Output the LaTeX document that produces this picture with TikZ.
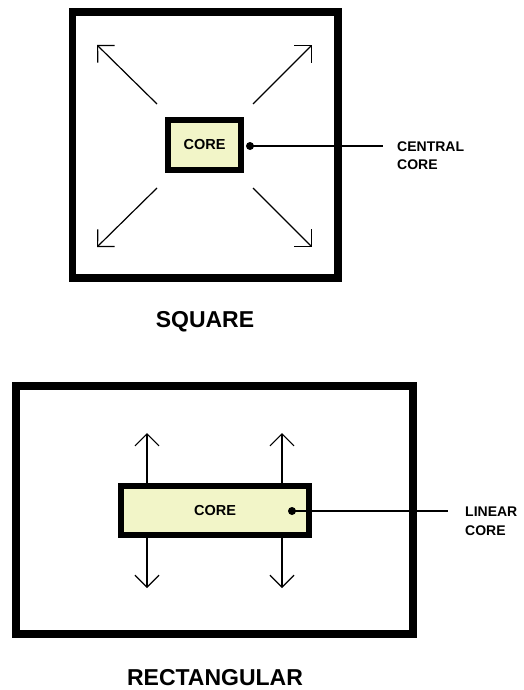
\documentclass[tikz,border=0pt]{standalone}
\usepackage{fontspec}
\setmainfont{Liberation Sans}
\usetikzlibrary{arrows.meta}
\definecolor{corefill}{HTML}{F2F5C8}
\tikzset{
  outerbox/.style={draw, line width=7.5pt, inner sep=0pt},
  corebox/.style={draw, line width=6pt, fill=corefill, inner sep=0pt, font=\bfseries\fontsize{14.5}{17}\selectfont},
  spread/.style={line width=1.2pt, -{Straight Barb[length=12pt,width=24pt]}},
  leader/.style={line width=1.2pt},
  dotmark/.style={circle, fill=black, inner sep=0pt, minimum size=8pt},
  label/.style={align=left, anchor=west, inner sep=0pt, font=\bfseries\fontsize{14}{18}\selectfont},
  title/.style={inner sep=0pt, font=\bfseries\fontsize{23}{27}\selectfont}
}
\begin{document}
\begin{tikzpicture}[x=1pt,y=-1pt]
\useasboundingbox[fill=white] (0,0) rectangle (523,690);
% square plan
\node[outerbox, minimum width=265.5pt, minimum height=265.5pt] (sq) at (205,145) {};
\node[corebox, minimum width=73pt, minimum height=50pt] (c1) at (204.5,145) {CORE};
\coordinate (nw0) at (157,104); \coordinate (nw1) at (97,45);
\coordinate (ne0) at (253,104); \coordinate (ne1) at (312,45);
\coordinate (sw0) at (157,188); \coordinate (sw1) at (97,247);
\coordinate (se0) at (253,188); \coordinate (se1) at (312,247);
\draw[spread] (nw0) -- (nw1);
\draw[spread] (ne0) -- (ne1);
\draw[spread] (sw0) -- (sw1);
\draw[spread] (se0) -- (se1);
\node[dotmark] (d1) at (250,146) {};
\coordinate (l1) at (383,146);
\draw[leader] (d1.center) -- (l1);
\node[label] (t1) at (397,156) {CENTRAL\\CORE};
\node[title] (sqt) at (205,322) {SQUARE};
% rectangular plan
\node[outerbox, minimum width=397pt, minimum height=248pt] (rc) at (214.5,510) {};
\node[corebox, minimum width=188pt, minimum height=49pt] (c2) at (215,510.5) {CORE};
\coordinate (u1a) at (147,483); \coordinate (u1b) at (147,433);
\coordinate (u2a) at (282,483); \coordinate (u2b) at (282,433);
\coordinate (v1a) at (147,538); \coordinate (v1b) at (147,588);
\coordinate (v2a) at (282,538); \coordinate (v2b) at (282,588);
\draw[spread] (u1a) -- (u1b);
\draw[spread] (u2a) -- (u2b);
\draw[spread] (v1a) -- (v1b);
\draw[spread] (v2a) -- (v2b);
\node[dotmark] (d2) at (292,511) {};
\coordinate (l2) at (448,511);
\draw[leader] (d2.center) -- (l2);
\node[label, font=\bfseries\fontsize{14}{19}\selectfont] (t2) at (465,521) {LINEAR\\CORE};
\node[title] (rct) at (215,678) {RECTANGULAR};
\end{tikzpicture}
\end{document}
